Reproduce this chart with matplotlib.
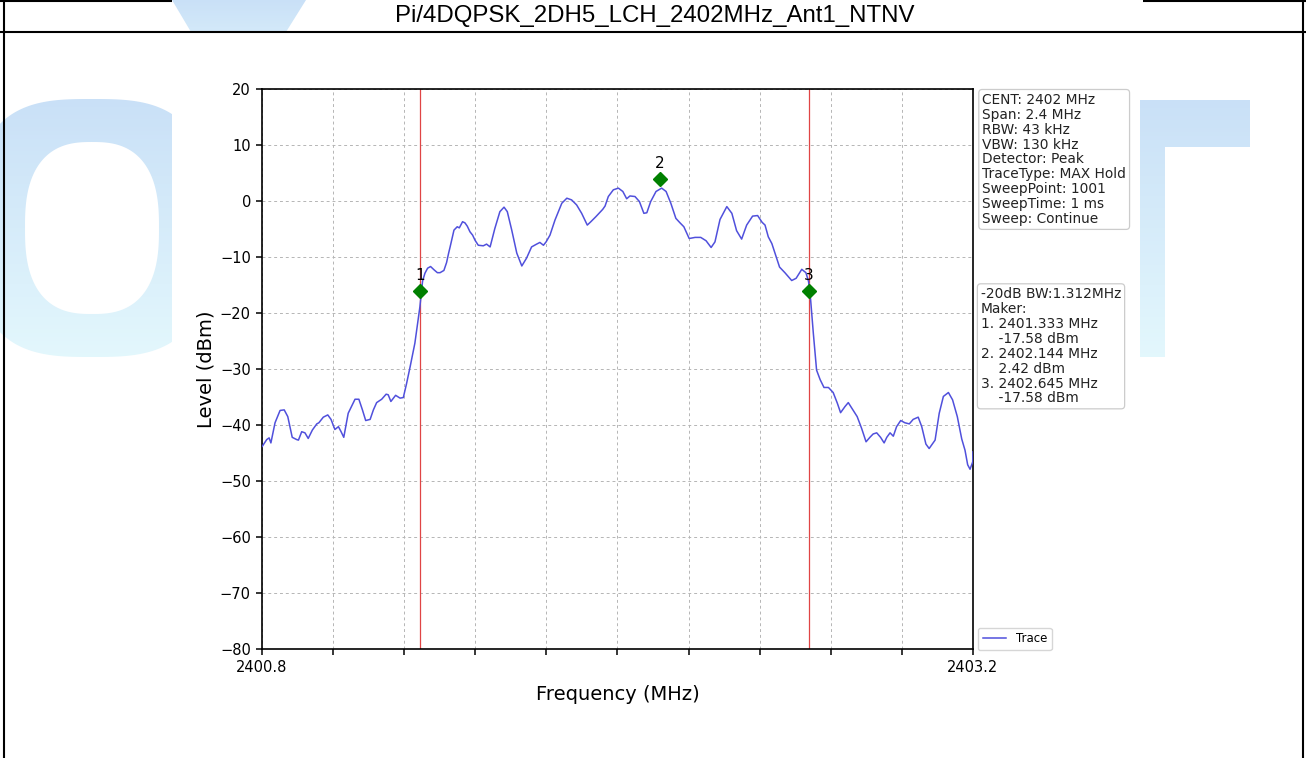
import numpy as np
import matplotlib.pyplot as plt
from matplotlib.path import Path
from matplotlib.patches import PathPatch, Rectangle

title = 'Pi/4DQPSK_2DH5_LCH_2402MHz_Ant1_NTNV'

# spectrum trace (MHz, dBm)
freq = [2400.801, 2400.816, 2400.824, 2400.830, 2400.844, 2400.861, 2400.875, 2400.887,
        2400.902, 2400.917, 2400.923, 2400.934, 2400.945, 2400.956, 2400.970, 2400.985,
        2400.992, 2401.007, 2401.022, 2401.033, 2401.046, 2401.058, 2401.067, 2401.076,
        2401.091, 2401.114, 2401.127, 2401.139, 2401.150, 2401.165, 2401.176, 2401.187,
        2401.204, 2401.219, 2401.226, 2401.235, 2401.251, 2401.266, 2401.277, 2401.288,
        2401.300, 2401.316, 2401.333, 2401.342, 2401.350, 2401.359, 2401.369, 2401.381,
        2401.392, 2401.401, 2401.414, 2401.423, 2401.430, 2401.435, 2401.448, 2401.459,
        2401.466, 2401.477, 2401.485, 2401.493, 2401.502, 2401.511, 2401.519, 2401.530,
        2401.547, 2401.558, 2401.570, 2401.586, 2401.603, 2401.617, 2401.628, 2401.643,
        2401.660, 2401.677, 2401.693, 2401.710, 2401.727, 2401.738, 2401.750, 2401.759,
        2401.772, 2401.789, 2401.812, 2401.829, 2401.845, 2401.862, 2401.879, 2401.898,
        2401.910, 2401.927, 2401.950, 2401.958, 2401.969, 2401.986, 2402.003, 2402.018,
        2402.031, 2402.042, 2402.059, 2402.074, 2402.089, 2402.099, 2402.112, 2402.130,
        2402.149, 2402.164, 2402.180, 2402.197, 2402.211, 2402.224, 2402.242, 2402.262,
        2402.281, 2402.299, 2402.316, 2402.329, 2402.346, 2402.369, 2402.386, 2402.402,
        2402.419, 2402.436, 2402.456, 2402.473, 2402.488, 2402.498, 2402.509, 2402.521,
        2402.537, 2402.547, 2402.565, 2402.588, 2402.603, 2402.622, 2402.636, 2402.645,
        2402.652, 2402.661, 2402.672, 2402.684, 2402.697, 2402.712, 2402.728, 2402.742,
        2402.753, 2402.768, 2402.779, 2402.796, 2402.809, 2402.824, 2402.839, 2402.852,
        2402.863, 2402.875, 2402.888, 2402.900, 2402.909, 2402.920, 2402.931, 2402.942,
        2402.956, 2402.970, 2402.985, 2402.998, 2403.015, 2403.027, 2403.041, 2403.052,
        2403.072, 2403.086, 2403.100, 2403.117, 2403.131, 2403.147, 2403.162, 2403.173,
        2403.182, 2403.190, 2403.199, 2403.200]
level = [-43.8, -42.6, -42.3, -43.2, -39.6, -37.4, -37.3, -38.5,
         -42.2, -42.6, -42.7, -41.2, -41.4, -42.4, -40.9, -39.8,
         -39.6, -38.6, -38.2, -39.0, -40.8, -40.3, -41.2, -42.2,
         -37.9, -35.4, -35.4, -37.3, -39.2, -39.0, -37.3, -36.0,
         -35.4, -34.5, -34.6, -35.8, -34.7, -35.2, -35.1, -32.6,
         -29.6, -25.4, -18.9, -14.3, -12.9, -12.0, -11.7, -12.3,
         -12.8, -12.8, -12.4, -11.0, -9.3, -8.2, -5.2, -4.6,
         -4.8, -3.7, -3.9, -4.5, -5.5, -6.1, -7.0, -7.9,
         -8.0, -7.7, -8.2, -4.9, -1.9, -1.1, -1.9, -5.2,
         -9.3, -11.6, -10.2, -8.2, -7.7, -7.4, -7.9, -7.3,
         -6.1, -3.4, -0.4, 0.5, 0.2, -0.7, -2.2, -4.3,
         -3.7, -2.8, -1.5, -0.9, 0.8, 2.0, 2.3, 1.7,
         0.4, 0.9, 0.8, -0.1, -2.2, -2.1, -0.1, 1.7,
         2.3, 1.7, -0.4, -3.1, -3.9, -4.6, -6.7, -6.5,
         -6.5, -7.1, -8.3, -7.3, -3.3, -1.0, -2.2, -5.3,
         -6.8, -4.3, -2.7, -2.6, -3.8, -4.3, -6.4, -7.6,
         -10.2, -11.8, -12.8, -14.2, -13.8, -12.2, -12.8, -14.4,
         -17.7, -23.6, -30.2, -31.9, -33.3, -33.3, -34.2, -36.1,
         -37.8, -36.7, -36.0, -37.4, -38.5, -40.6, -43.0, -42.2,
         -41.6, -41.4, -42.2, -43.2, -42.2, -41.4, -42.0, -40.3,
         -39.2, -39.6, -39.8, -39.0, -38.6, -40.3, -43.4, -44.2,
         -42.7, -37.9, -34.9, -34.2, -35.5, -38.5, -42.5, -44.5,
         -47.1, -47.9, -46.6, -44.8]

marker_freq = [2401.333, 2402.144, 2402.645]
marker_level = [-16.1, 3.9, -16.1]
marker_names = ['1', '2', '3']
edge_freq = [2401.333, 2402.645]

settings = ['CENT: 2402 MHz', 'Span: 2.4 MHz', 'RBW: 43 kHz', 'VBW: 130 kHz',
            'Detector: Peak', 'TraceType: MAX Hold', 'SweepPoint: 1001',
            'SweepTime: 1 ms', 'Sweep: Continue']
results = ['-20dB BW:1.312MHz', 'Maker:', '1. 2401.333 MHz', '    -17.58 dBm',
           '2. 2402.144 MHz', '    2.42 dBm', '3. 2402.645 MHz', '    -17.58 dBm']

W, H = 1306, 758
fig = plt.figure(figsize=(W / 100, H / 100), dpi=100)

# page background: watermark, table lines, title
bg = fig.add_axes([0, 0, 1, 1])
bg.set_xlim(0, W)
bg.set_ylim(H, 0)
bg.axis('off')

top_col = np.array([0.79, 0.88, 0.97])
bot_col = np.array([0.89, 0.97, 0.99])


def superellipse(cx, cy, a, b, n, k=240):
    t = np.linspace(0, 2 * np.pi, k)
    c, s = np.cos(t), np.sin(t)
    x = cx + a * np.sign(c) * np.abs(c) ** (2 / n)
    y = cy + b * np.sign(s) * np.abs(s) ** (2 / n)
    return np.column_stack([x, y])


def gradient_fill(path, y0, y1):
    patch = PathPatch(path, fc='none', ec='none')
    bg.add_patch(patch)
    g = np.linspace(0, 1, 64)[:, None, None]
    img = top_col * (1 - g) + bot_col * g
    im = bg.imshow(img, extent=(0, W, y1, y0), origin='upper', aspect='auto', zorder=1)
    im.set_clip_path(patch)


outer = superellipse(92, 228, 118, 129, 3)
inner = superellipse(92, 228, 67, 86, 2.6)[::-1]
verts = np.vstack([outer, inner])
codes = ([Path.MOVETO] + [Path.LINETO] * (len(outer) - 2) + [Path.CLOSEPOLY]) * 2
gradient_fill(Path(verts, codes), 99, 357)

gamma = [(1139, 100), (1250, 100), (1250, 147), (1165, 147), (1165, 357), (1139, 357), (1139, 100)]
gradient_fill(Path(gamma, closed=True), 100, 357)

slash = [(172, 0), (306, 0), (286, 32), (191, 32), (172, 0)]
gradient_fill(Path(slash, closed=True), 0, 80)

bg.add_patch(Rectangle((172, 33), 968, H - 33, fc='white', ec='none', zorder=2))
bg.set_xlim(0, W)
bg.set_ylim(H, 0)

for xs, ys in [([0, 172], [1, 1]), ([1143, W], [1, 1]), ([0, W], [32, 32]),
               ([4, 4], [0, H]), ([1303, 1303], [0, H])]:
    bg.plot(xs, ys, color='black', lw=1.5, zorder=3, solid_capstyle='butt')

bg.text(655, 16, title, ha='center', va='center', fontsize=17.3,
        family='Liberation Sans', zorder=4)

# spectrum plot
ax = fig.add_axes([262 / W, (H - 649) / H, 711 / W, 560 / H])
ax.plot(freq, level, color='#5050dc', lw=1.1, label='Trace', zorder=3)
for f in edge_freq:
    ax.axvline(f, color='#e04545', lw=0.9, zorder=2)
ax.plot(marker_freq, marker_level, 'D', color='green', ms=7, zorder=4)
for f, v, n in zip(marker_freq, marker_level, marker_names):
    ax.annotate(n, (f, v), xytext=(0, 11), textcoords='offset points',
                ha='center', va='center', fontsize=11)

ax.set_xlim(2400.8, 2403.2)
ax.set_ylim(-80, 20)
xt = 2400.8 + 0.24 * np.arange(11)
ax.set_xticks(xt)
ax.set_xticklabels(['2400.8'] + [''] * 9 + ['2403.2'])
ax.set_yticks(np.arange(-80, 21, 10))
ax.tick_params(labelsize=10.5, length=4, width=1.1, pad=4)
ax.grid(True, color='#b5b5b5', ls=(0, (3, 3)), lw=0.7)
for sp in ax.spines.values():
    sp.set_linewidth(1.2)

ax.set_xlabel('Frequency (MHz)', fontsize=14)
ax.set_ylabel('Level (dBm)', fontsize=14)
ax.xaxis.set_label_coords(0.5, -0.064)
ax.yaxis.set_label_coords(-0.065, 0.5)

box = dict(boxstyle='round,pad=0.25', fc='white', ec='#cccccc', lw=0.9)
ax.text(1.013, 0.993, '\n'.join(settings), transform=ax.transAxes, ha='left', va='top',
        fontsize=9.9, color='#222222', linespacing=1.08, bbox=box)
ax.text(1.011, 0.646, '\n'.join(results), transform=ax.transAxes, ha='left', va='top',
        fontsize=9.9, color='#222222', linespacing=1.08, bbox=box)

ax.legend(loc='lower left', bbox_to_anchor=(1.007, -0.002), borderaxespad=0, fontsize=8.5)

fig.savefig('out.png', dpi=100)
